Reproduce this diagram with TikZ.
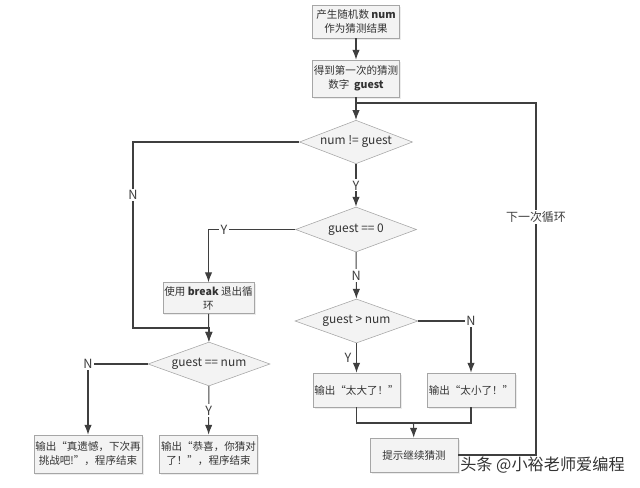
\documentclass[tikz,border=0pt]{standalone}
\usepackage{fontspec}
\setmainfont{Noto Sans CJK SC}
\usepackage{xcolor}
\usetikzlibrary{shapes.geometric, arrows.meta, positioning, shadows}
\definecolor{boxline}{HTML}{A6A6A6}
\definecolor{boxfill}{HTML}{F3F3F3}
\definecolor{flowline}{HTML}{3F3F3F}
\definecolor{txt}{HTML}{333333}

\begin{document}
\begin{tikzpicture}[
    x=0.025cm, y=-0.025cm,
    block/.style = {rectangle, draw=boxline, fill=boxfill, text=txt, align=center, inner sep=1pt, minimum width=2.175cm, minimum height=0.85cm, font=\fontsize{7.5}{10}\selectfont, drop shadow={opacity=0.15, shadow xshift=0.04cm, shadow yshift=-0.04cm}},
    decision/.style = {diamond, draw=boxline, fill=boxfill, text=txt, shape aspect=2.6, inner sep=1pt, minimum width=2.75cm, minimum height=1.08cm, font=\fontsize{8.5}{10}\selectfont},
    flow/.style = {draw=flowline, line width=0.75pt},
    arrowline/.style = {flow, -{Latex[scale=1.1]}},
    lbl/.style = {fill=white, text=flowline, inner sep=1pt, font=\fontsize{9}{10}\selectfont}
]
    \useasboundingbox (0,0) rectangle (640,488);

    \node [block, minimum height=0.825cm] (start) at (356,21.5) {产生随机数 \textbf{num}\\作为猜测结果};
    \node [block, minimum height=0.925cm] (guess) at (356,78.5) {得到第一次的猜测\\数字\ \ \textbf{guest}};
    \node [decision] (ne) at (356,142) {num != guest};
    \node [decision, minimum width=3.025cm, minimum height=1.125cm] (eqzero) at (356,229.5) {guest == 0};
    \node [block, minimum height=0.775cm] (brk) at (208.5,298) {使用 \textbf{break} 退出循\\环};
    \node [decision, minimum width=3.05cm, minimum height=1.05cm] (eqnum) at (209,364) {guest == num};
    \node [decision, minimum width=3.075cm, minimum height=1.1cm] (gt) at (356.5,321) {guest > num};
    \node [block, minimum width=2.45cm, minimum height=0.95cm] (lose) at (88,454) {输出“真遗憾，下次再\\挑战吧!”，程序结束};
    \node [block, minimum width=2.425cm, minimum height=0.95cm] (win) at (208.5,454) {输出“恭喜，你猜对\\了！”，程序结束};
    \node [block] (big) at (356.5,390) {输出“太大了！”};
    \node [block, minimum width=2.2cm] (small) at (471,390) {输出“太小了！”};
    \node [block, minimum width=2.2cm] (hint) at (414,455) {提示继续猜测};

    \coordinate (join) at (356,103);
    \coordinate (loopc) at (536,103);
    \coordinate (nleft) at (133,328);
    \coordinate (merge) at (413.5,423);

    \path [arrowline] (start) -- (guess);
    \path [arrowline] (guess) -- (ne);
    \path [flow] (hint.east) -| (loopc) -- (join);
    \node [lbl, font=\fontsize{8.5}{10}\selectfont] (looplbl) at (536,217) {下一次循环};

    \path [arrowline] (ne) -- node [lbl] {Y} (eqzero);
    \path [arrowline] (ne.west) -| (nleft) -| (eqnum.north);
    \node [lbl] (nlbl) at (133,195) {N};

    \path [arrowline] (eqzero.west) -| node [lbl, pos=0.41] {Y} (brk.north);
    \path [arrowline] (brk) -- (eqnum);
    \path [arrowline] (eqnum.west) -| node [lbl, pos=0.5] {N} (lose.north);
    \path [arrowline] (eqnum) -- node [lbl] {Y} (win);

    \path [arrowline] (eqzero) -- node [lbl] {N} (gt);
    \path [arrowline] (gt.east) -| node [lbl, pos=0.5] {N} (small.north);
    \path [arrowline] (gt) -- node [left, text=flowline, font=\fontsize{9}{10}\selectfont] {Y} (big);

    \path [flow] (big.south) |- (merge);
    \path [flow] (small.south) |- (merge);
    \path [arrowline] (merge) -- (hint);

    \node [text=txt, font=\fontsize{11.5}{13}\selectfont, anchor=west, inner sep=0pt] (mark) at (460,465) {头条 @小裕老师爱编程};
\end{tikzpicture}
\end{document}
